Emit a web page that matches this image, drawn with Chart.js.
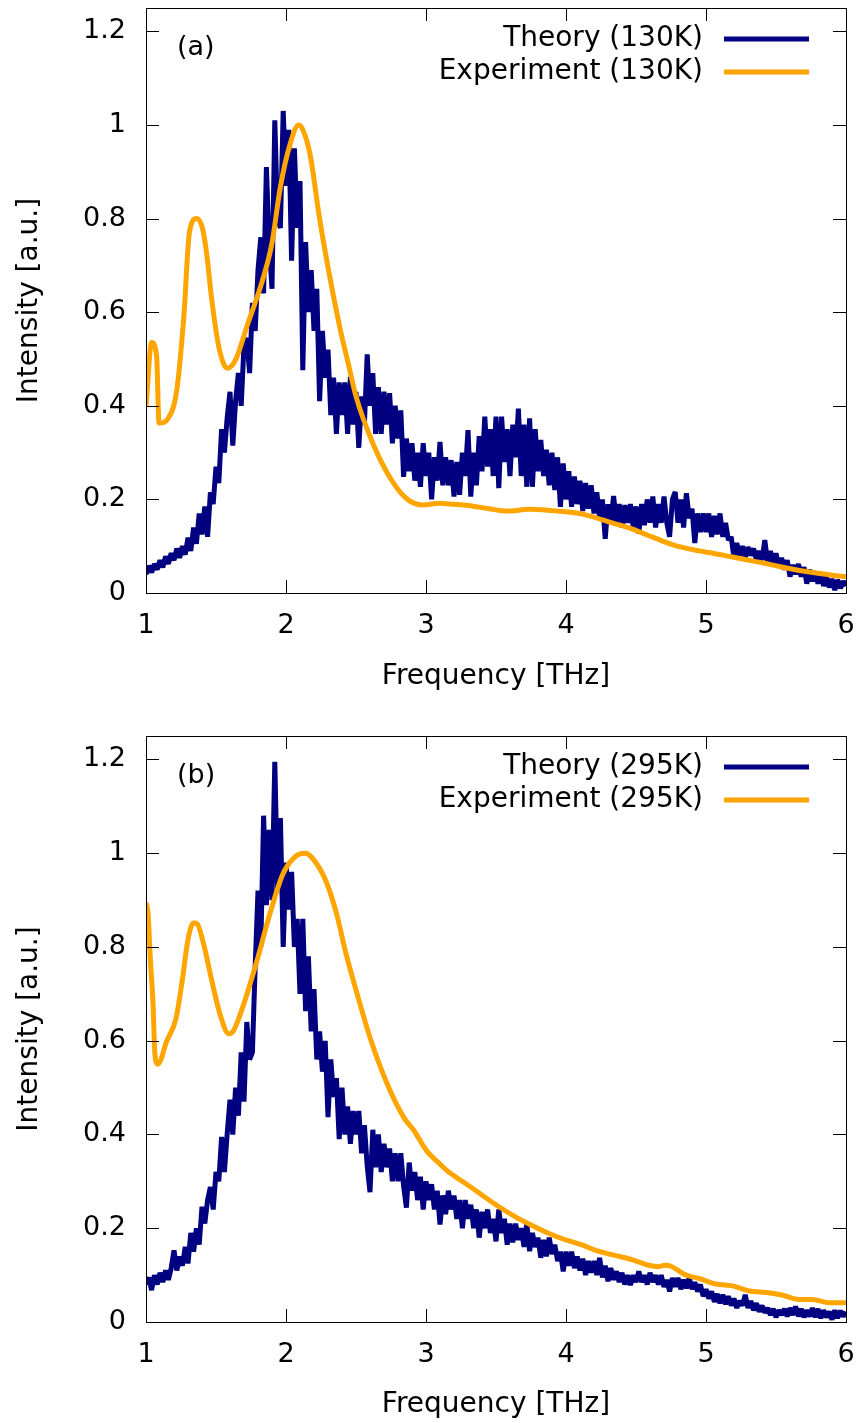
<!DOCTYPE html>
<html>
<head>
<meta charset="utf-8">
<script src="https://cdn.jsdelivr.net/npm/chart.js@4.4.0/dist/chart.umd.min.js"></script>
<style>
html,body{margin:0;padding:0;background:#fff;overflow:hidden;}
#wrap{position:relative;width:862px;height:1423px;}
.panel{position:absolute;left:0;width:862px;height:711px;}
</style>
</head>
<body>
<div id="wrap">
  <div class="panel" style="top:0px"><canvas id="chartA" width="862" height="711"></canvas></div>
  <div class="panel" style="top:712px"><canvas id="chartB" width="862" height="711"></canvas></div>
</div>
<script>
// ---------------- DATA ----------------
const xTickValues = [1, 2, 3, 4, 5, 6];
const yTickValues = [0, 0.2, 0.4, 0.6, 0.8, 1.0, 1.2];
const xAxisTitle = "Frequency [THz]";
const yAxisTitle = "Intensity [a.u.]";
const panelLabels = ["(a)", "(b)"];
const seriesLabelsA = ["Theory (130K)", "Experiment (130K)"];
const seriesLabelsB = ["Theory (295K)", "Experiment (295K)"];

// theory spectra sampled every 0.02 THz from 1.00 to 6.00 THz
const theoryFreqStart = 1.0;
const theoryFreqStep = 0.02;

const theory130K = [
  0.040, 0.058, 0.044, 0.062, 0.050, 0.070, 0.055, 0.078, 0.062, 0.085,
  0.070, 0.095, 0.075, 0.100, 0.082, 0.118, 0.090, 0.140, 0.105, 0.170,
  0.125, 0.185, 0.120, 0.215, 0.190, 0.270, 0.235, 0.350, 0.300, 0.375,
  0.430, 0.315, 0.410, 0.470, 0.400, 0.530, 0.545, 0.470, 0.620, 0.560,
  0.690, 0.760, 0.640, 0.910, 0.740, 0.650, 1.010, 0.800, 0.780, 1.030,
  0.870, 0.990, 0.710, 0.950, 0.780, 0.880, 0.476, 0.750, 0.600, 0.690,
  0.560, 0.650, 0.410, 0.560, 0.460, 0.520, 0.380, 0.460, 0.340, 0.450,
  0.380, 0.450, 0.340, 0.462, 0.360, 0.430, 0.310, 0.420, 0.360, 0.510,
  0.400, 0.470, 0.340, 0.440, 0.340, 0.430, 0.360, 0.427, 0.320, 0.400,
  0.330, 0.390, 0.248, 0.330, 0.260, 0.320, 0.240, 0.300, 0.227, 0.320,
  0.250, 0.300, 0.200, 0.290, 0.240, 0.323, 0.230, 0.290, 0.230, 0.284,
  0.206, 0.280, 0.210, 0.300, 0.250, 0.348, 0.206, 0.300, 0.230, 0.335,
  0.260, 0.377, 0.270, 0.350, 0.250, 0.377, 0.224, 0.377, 0.280, 0.350,
  0.250, 0.360, 0.290, 0.394, 0.250, 0.360, 0.227, 0.373, 0.227, 0.350,
  0.260, 0.327, 0.250, 0.306, 0.230, 0.300, 0.220, 0.290, 0.184, 0.277,
  0.200, 0.260, 0.184, 0.249, 0.190, 0.240, 0.175, 0.235, 0.180, 0.230,
  0.170, 0.215, 0.160, 0.200, 0.116, 0.190, 0.150, 0.207, 0.150, 0.190,
  0.140, 0.188, 0.150, 0.190, 0.140, 0.185, 0.127, 0.190, 0.145, 0.200,
  0.150, 0.206, 0.140, 0.190, 0.150, 0.206, 0.150, 0.120, 0.200, 0.216,
  0.150, 0.200, 0.140, 0.213, 0.160, 0.180, 0.107, 0.170, 0.130, 0.170,
  0.130, 0.170, 0.120, 0.165, 0.125, 0.170, 0.120, 0.150, 0.113, 0.120,
  0.075, 0.107, 0.080, 0.100, 0.075, 0.098, 0.080, 0.095, 0.070, 0.090,
  0.070, 0.113, 0.065, 0.090, 0.060, 0.085, 0.055, 0.075, 0.050, 0.070,
  0.035, 0.060, 0.040, 0.062, 0.035, 0.055, 0.020, 0.050, 0.025, 0.045,
  0.020, 0.040, 0.015, 0.035, 0.012, 0.030, 0.006, 0.028, 0.010, 0.025,
  0.015
];

const theory295K = [
  0.080, 0.095, 0.068, 0.100, 0.080, 0.105, 0.085, 0.110, 0.090, 0.115,
  0.153, 0.110, 0.140, 0.120, 0.160, 0.125, 0.190, 0.150, 0.200, 0.165,
  0.246, 0.210, 0.260, 0.288, 0.240, 0.320, 0.300, 0.395, 0.320, 0.402,
  0.474, 0.400, 0.500, 0.440, 0.575, 0.470, 0.640, 0.560, 0.575, 0.760,
  0.920, 0.800, 1.080, 0.889, 1.050, 0.900, 1.195, 0.920, 1.075, 0.800,
  0.980, 0.880, 0.960, 0.800, 0.860, 0.700, 0.860, 0.663, 0.780, 0.620,
  0.710, 0.560, 0.620, 0.534, 0.600, 0.437, 0.560, 0.480, 0.520, 0.390,
  0.500, 0.400, 0.460, 0.380, 0.450, 0.400, 0.450, 0.360, 0.420, 0.333,
  0.277, 0.410, 0.330, 0.400, 0.320, 0.380, 0.330, 0.370, 0.300, 0.360,
  0.300, 0.360, 0.290, 0.244, 0.340, 0.280, 0.320, 0.260, 0.310, 0.240,
  0.300, 0.260, 0.294, 0.240, 0.280, 0.208, 0.270, 0.230, 0.280, 0.240,
  0.270, 0.220, 0.260, 0.200, 0.260, 0.220, 0.250, 0.200, 0.240, 0.180,
  0.235, 0.200, 0.240, 0.190, 0.220, 0.172, 0.240, 0.190, 0.220, 0.165,
  0.210, 0.170, 0.210, 0.175, 0.200, 0.160, 0.210, 0.151, 0.190, 0.160,
  0.180, 0.137, 0.175, 0.140, 0.180, 0.145, 0.165, 0.130, 0.150, 0.108,
  0.150, 0.120, 0.150, 0.115, 0.140, 0.110, 0.135, 0.100, 0.130, 0.105,
  0.130, 0.100, 0.137, 0.095, 0.120, 0.087, 0.115, 0.090, 0.108, 0.085,
  0.105, 0.080, 0.100, 0.079, 0.100, 0.085, 0.108, 0.085, 0.100, 0.080,
  0.105, 0.085, 0.100, 0.080, 0.100, 0.075, 0.090, 0.065, 0.094, 0.075,
  0.094, 0.070, 0.090, 0.072, 0.094, 0.070, 0.085, 0.065, 0.080, 0.055,
  0.070, 0.050, 0.065, 0.043, 0.060, 0.040, 0.058, 0.038, 0.055, 0.035,
  0.050, 0.030, 0.045, 0.035, 0.058, 0.030, 0.045, 0.025, 0.040, 0.022,
  0.035, 0.020, 0.030, 0.015, 0.028, 0.010, 0.025, 0.015, 0.028, 0.012,
  0.030, 0.015, 0.033, 0.012, 0.028, 0.010, 0.025, 0.012, 0.030, 0.010,
  0.028, 0.008, 0.025, 0.010, 0.022, 0.005, 0.025, 0.008, 0.024, 0.012,
  0.022
];

const exp130KFreq = [1.00, 1.04, 1.076, 1.093, 1.16, 1.22, 1.27, 1.31, 1.36, 1.40,
  1.43, 1.47, 1.52, 1.58, 1.64, 1.72, 1.84, 1.90, 1.96, 2.03,
  2.09, 2.12, 2.17, 2.24, 2.31, 2.39, 2.445, 2.50, 2.62, 2.74,
  2.86, 2.98, 3.10, 3.17, 3.30, 3.45, 3.58, 3.74, 3.90, 4.10,
  4.22, 4.34, 4.46, 4.58, 4.69, 4.81, 4.95, 5.05, 5.17, 5.29,
  5.41, 5.53, 5.65, 5.80, 5.90, 6.00];
const exp130KIntensity = [0.398, 0.535, 0.505, 0.363, 0.374, 0.434, 0.590, 0.770, 0.800, 0.783,
  0.733, 0.626, 0.526, 0.480, 0.498, 0.569, 0.676, 0.748, 0.868, 0.960,
  1.000, 0.990, 0.940, 0.800, 0.680, 0.560, 0.490, 0.420, 0.320, 0.248,
  0.202, 0.188, 0.192, 0.190, 0.187, 0.180, 0.175, 0.179, 0.176, 0.170,
  0.160, 0.149, 0.138, 0.124, 0.111, 0.099, 0.090, 0.085, 0.078, 0.071,
  0.064, 0.056, 0.049, 0.042, 0.038, 0.035];

const exp295KFreq = [1.00, 1.015, 1.03, 1.05, 1.064, 1.085, 1.148, 1.214, 1.255, 1.30,
  1.338, 1.366, 1.41, 1.47, 1.53, 1.59, 1.62, 1.69, 1.79, 1.886,
  1.98, 2.076, 2.136, 2.22, 2.29, 2.36, 2.43, 2.505, 2.60, 2.72,
  2.84, 2.91, 3.005, 3.10, 3.15, 3.27, 3.39, 3.51, 3.63, 3.75,
  3.87, 3.99, 4.11, 4.23, 4.35, 4.47, 4.59, 4.66, 4.71, 4.75,
  4.85, 4.95, 5.07, 5.19, 5.31, 5.43, 5.55, 5.66, 5.76, 5.88, 6.00];
const exp295KIntensity = [0.895, 0.870, 0.780, 0.680, 0.570, 0.550, 0.599, 0.647, 0.720, 0.816,
  0.851, 0.849, 0.808, 0.728, 0.655, 0.615, 0.619, 0.671, 0.768, 0.872,
  0.957, 0.995, 1.000, 0.977, 0.937, 0.872, 0.784, 0.703, 0.607, 0.510,
  0.437, 0.410, 0.365, 0.337, 0.323, 0.298, 0.273, 0.248, 0.226, 0.207,
  0.190, 0.176, 0.165, 0.151, 0.142, 0.133, 0.121, 0.118, 0.121, 0.119,
  0.101, 0.093, 0.081, 0.077, 0.066, 0.063, 0.057, 0.048, 0.048, 0.041, 0.041];

// ---------------- STYLE ----------------
const THEORY_COLOR = "#000080";
const EXP_COLOR = "#ffa500";
const FONT = '"DejaVu Sans", "Liberation Sans", sans-serif';

function toPoints(xs, ys) { return ys.map((v, i) => ({ x: xs[i], y: v })); }
function theoryPoints(vals) {
  return vals.map((v, i) => ({ x: +(theoryFreqStart + i * theoryFreqStep).toFixed(2), y: v }));
}

const framePlugin = {
  id: 'frame',
  afterDatasetsDraw(chart) {
    const { ctx, chartArea: a, scales: { x, y } } = chart;
    const o = chart.options.plugins.frame;
    ctx.save();
    ctx.strokeStyle = '#000';
    ctx.lineWidth = 1;
    ctx.beginPath();
    const L = 13;
    xTickValues.forEach(v => {
      const px = Math.round(x.getPixelForValue(v)) + 0.5;
      ctx.moveTo(px, a.bottom); ctx.lineTo(px, a.bottom - L);
      ctx.moveTo(px, a.top); ctx.lineTo(px, a.top + L);
    });
    yTickValues.forEach(v => {
      const py = Math.round(y.getPixelForValue(v)) + 0.5;
      ctx.moveTo(a.left, py); ctx.lineTo(a.left + L, py);
      ctx.moveTo(a.right, py); ctx.lineTo(a.right - L, py);
    });
    ctx.stroke();
    ctx.strokeRect(Math.round(a.left) + 0.5, Math.round(a.top) + 0.5,
                   Math.round(a.right - a.left), Math.round(a.bottom - a.top));
    // panel label
    ctx.fillStyle = '#000';
    ctx.font = '27px ' + FONT;
    ctx.textAlign = 'left';
    ctx.textBaseline = 'middle';
    ctx.fillText(o.panel, 177, a.top + 40);
    // legend (gnuplot style: right aligned text, line sample)
    ctx.font = '28px ' + FONT;
    ctx.textAlign = 'right';
    chart.data.datasets.forEach((ds, i) => {
      const yy = a.top + 31 + i * 33;
      ctx.fillStyle = '#000';
      ctx.fillText(ds.label, 703, yy);
      ctx.strokeStyle = ds.borderColor;
      ctx.lineWidth = 5;
      ctx.beginPath();
      ctx.moveTo(724, yy); ctx.lineTo(809, yy);
      ctx.stroke();
    });
    ctx.restore();
  }
};

function zeroPad(s) { s.paddingTop = 0; s.paddingBottom = 0; s.paddingLeft = 0; s.paddingRight = 0; }

function makeChart(id, theoryVals, expX, expY, labels, panel, areaTop, areaBottom, xTitlePad) {
  const H = 711;
  return new Chart(document.getElementById(id), {
    type: 'line',
    data: {
      datasets: [
        { label: labels[0], data: theoryPoints(theoryVals), borderColor: THEORY_COLOR,
          borderWidth: 5, pointRadius: 0, tension: 0, fill: false, order: 2,
          borderJoinStyle: 'bevel' },
        { label: labels[1], data: toPoints(expX, expY), borderColor: EXP_COLOR,
          borderWidth: 5, pointRadius: 0, cubicInterpolationMode: 'monotone', fill: false, order: 1,
          borderJoinStyle: 'round' }
      ]
    },
    options: {
      responsive: false,
      animation: false,
      devicePixelRatio: 1,
      events: [],
      layout: { padding: { left: 0, right: 16, top: areaTop, bottom: 0 } },
      plugins: { legend: { display: false }, tooltip: { enabled: false }, frame: { panel } },
      scales: {
        x: {
          type: 'linear', min: 1, max: 6,
          afterFit: s => { s.height = H - areaBottom; zeroPad(s); },
          afterBuildTicks: s => { s.ticks = xTickValues.map(v => ({ value: v })); },
          grid: { display: false, drawTicks: false },
          border: { display: false },
          ticks: { padding: 17, color: '#000', font: { family: FONT, size: 27 },
                   callback: v => String(v), maxRotation: 0 },
          title: { display: true, text: xAxisTitle, color: '#000',
                   font: { family: FONT, size: 28 }, padding: { top: 0, bottom: xTitlePad } }
        },
        y: {
          type: 'linear', min: 0, max: 1.25,
          afterFit: s => { s.width = 146; zeroPad(s); },
          afterBuildTicks: s => { s.ticks = yTickValues.map(v => ({ value: v })); },
          grid: { display: false, drawTicks: false },
          border: { display: false },
          ticks: { padding: 20, color: '#000', font: { family: FONT, size: 27 },
                   callback: v => String(+v.toFixed(1)) },
          title: { display: true, text: yAxisTitle, color: '#000',
                   font: { family: FONT, size: 28 }, padding: { top: 13, bottom: 0 } }
        }
      }
    },
    plugins: [framePlugin]
  });
}

makeChart('chartA', theory130K, exp130KFreq, exp130KIntensity, seriesLabelsA, panelLabels[0], 8, 593, 17);
makeChart('chartB', theory295K, exp295KFreq, exp295KIntensity, seriesLabelsB, panelLabels[1], 24, 610, 1);
</script>
</body>
</html>
